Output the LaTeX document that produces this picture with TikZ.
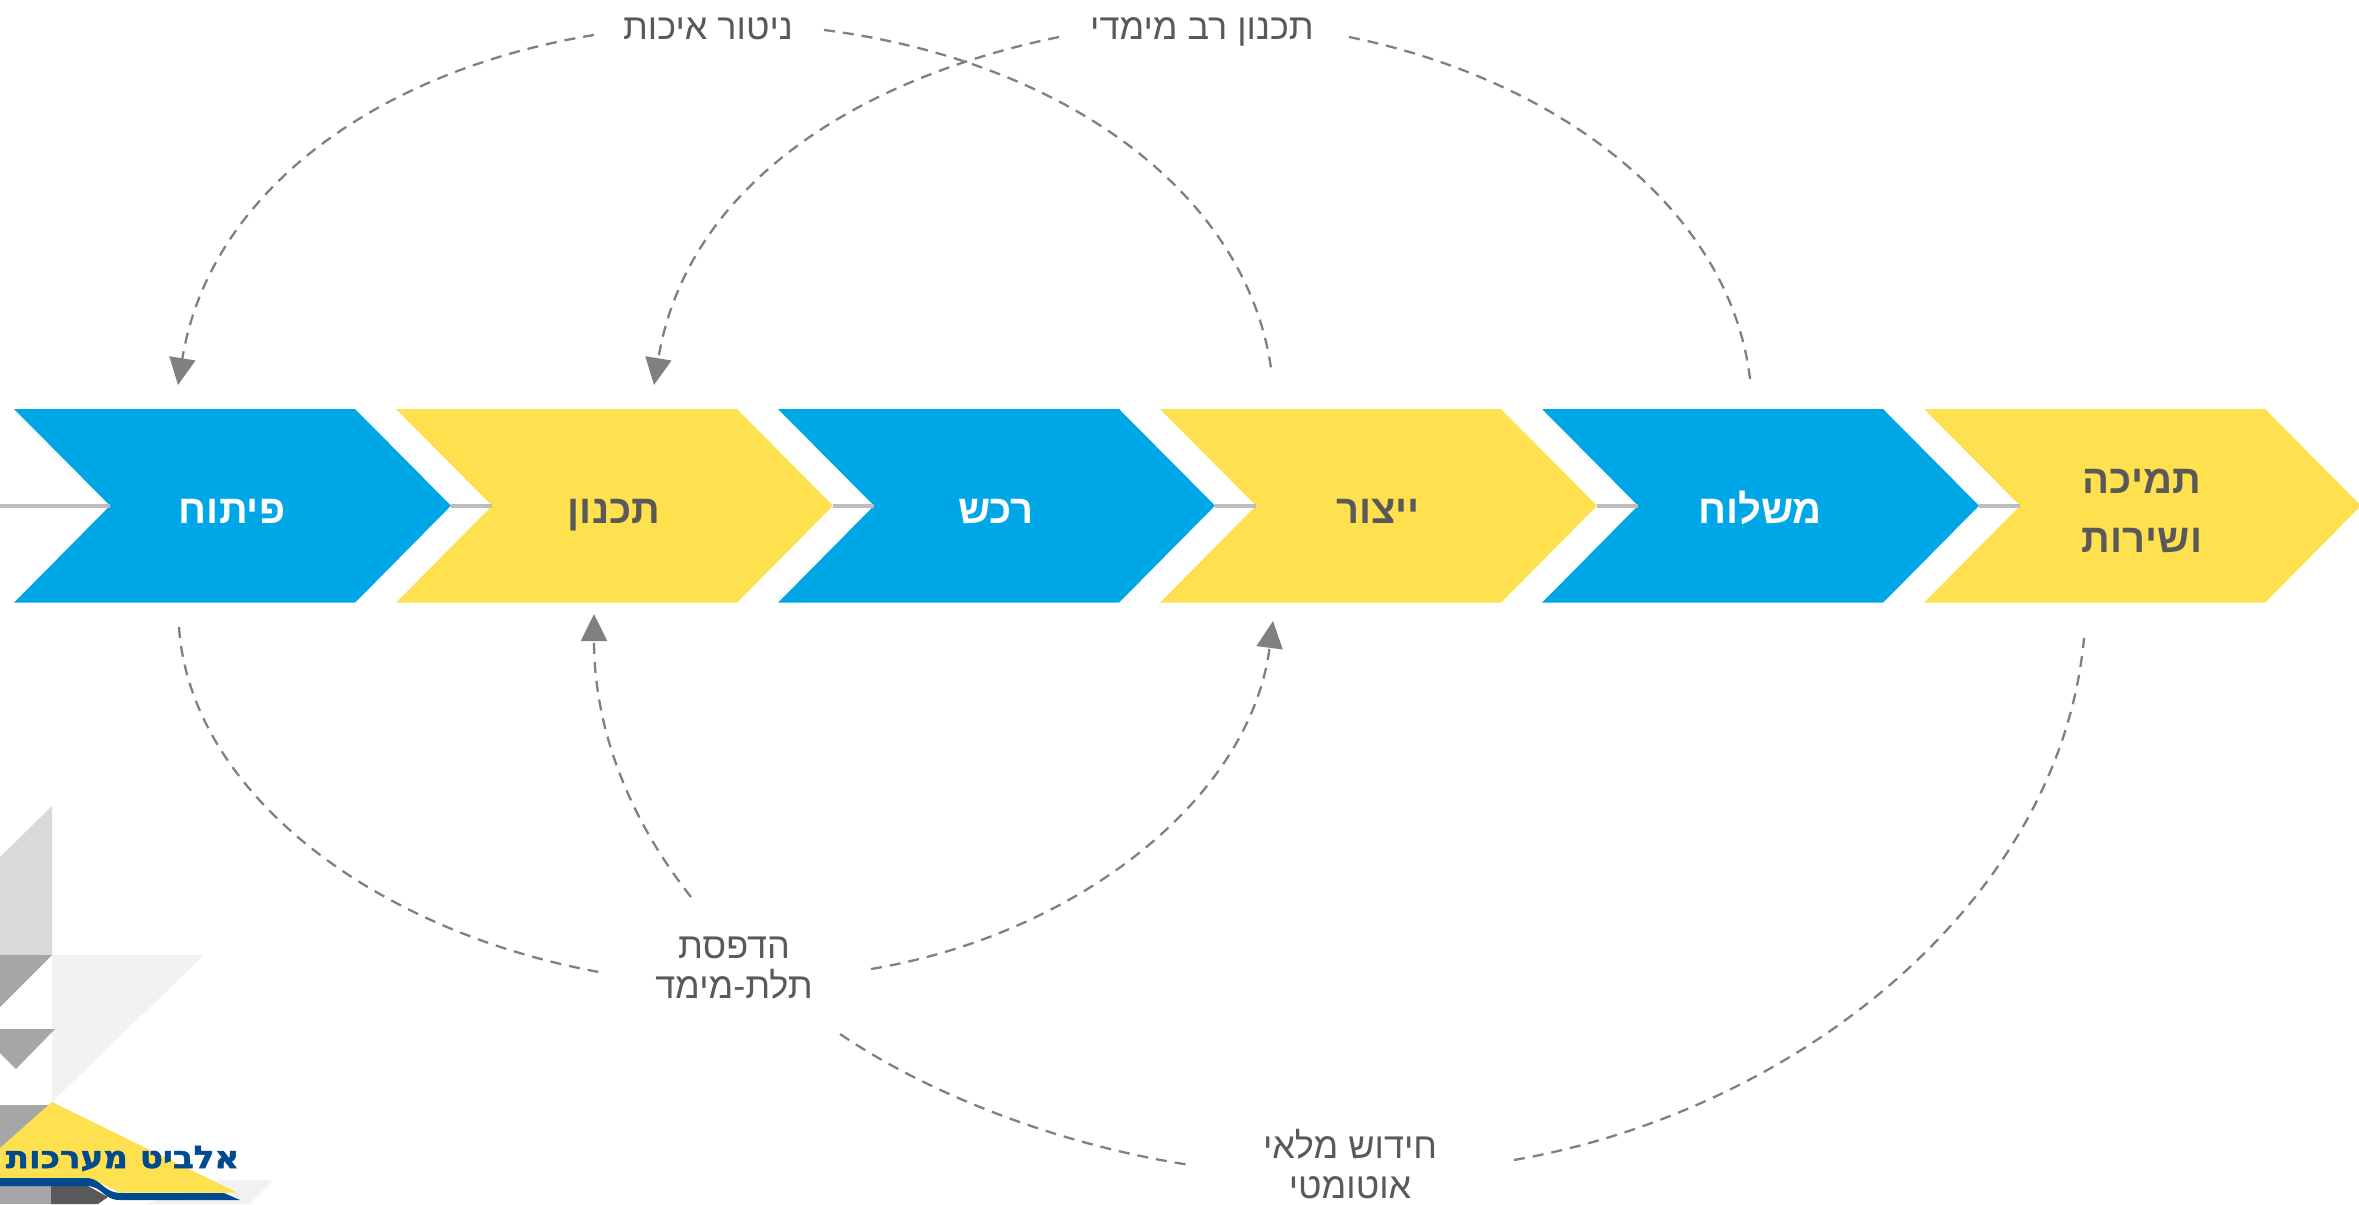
\documentclass[tikz,border=0pt]{standalone}
\usepackage{fontspec}
\usetikzlibrary{arrows.meta}
\TeXXeTstate=1
\newfontfamily\hebfont[Script=Hebrew]{Liberation Sans}
\newfontfamily\logofont[Script=Hebrew,FakeBold=1.5]{DejaVu Sans Bold}
\definecolor{cblue}{HTML}{00A7E6}
\definecolor{cyel}{HTML}{FFE04F}
\definecolor{ctxt}{HTML}{595959}
\definecolor{cdash}{HTML}{808080}
\definecolor{clink}{HTML}{BDBDBD}
\definecolor{clogo}{HTML}{004A8F}
\newcommand{\heb}[1]{\beginR #1\endR}
\newcommand{\chev}[3]{%
  \coordinate (n#1) at (#2+96,505.7);
  \coordinate (t#1) at (#2+437,505.7);
  \fill[#3] (#2,409) -- (#2+341,409) -- (t#1) -- (#2+341,602.7) -- (#2,602.7) -- (n#1) -- cycle;
}
\tikzset{
  x=0.5pt,y=-0.5pt,
  steplabel/.style={font=\hebfont\fontsize{20}{22}\selectfont\bfseries,anchor=base,inner sep=0pt},
  flowlabel/.style={font=\hebfont\fontsize{18}{20}\selectfont,text=ctxt,anchor=base,inner sep=0pt},
  link/.style={clink,line width=1.8pt},
  loopline/.style={cdash,line width=1.15pt,dash pattern=on 5.5pt off 4pt},
  looparrow/.style={loopline,-{Triangle[length=13.5pt,width=13pt,fill=cdash]}}
}
\begin{document}
\begin{tikzpicture}
\useasboundingbox (0,0) rectangle (2359,1204);
% logo backdrop
\fill[black!15] (0,857) -- (52,806) -- (52,955) -- (0,955) -- cycle;
\fill[black!35] (0,955) -- (52,955) -- (0,1007) -- cycle;
\fill[black!5] (52,955) -- (204,955) -- (52,1102) -- cycle;
\fill[black!35] (0,1029) -- (55,1029) -- (16,1069) -- (0,1053) -- cycle;
\fill[black!35] (0,1105) -- (50,1105) -- (0,1152) -- cycle;
\fill[black!5] (220,1180) -- (273,1180) -- (249,1204) -- (145,1204) -- cycle;
\fill[cyel] (0,1148) -- (52,1102) -- (237,1192.5) -- (120,1192.5) -- (90,1178) -- (0,1178) -- cycle;
\fill[black!35] (0,1186) rectangle (51,1204);
\fill[black!65] (51,1186) -- (88,1186) -- (108,1197) -- (98,1204) -- (51,1204) -- cycle;
\fill[clogo] (0,1178) -- (88,1178) .. controls (103,1180) and (103,1193) .. (122,1193) -- (224,1193) -- (240,1200) -- (120,1200) .. controls (102,1200) and (104,1186) .. (86,1186) -- (0,1186) -- cycle;
\node[anchor=base,inner sep=0pt,text=clogo,xscale=1.1] (logo) at (122.5,1168) {\logofont\fontsize{15.5}{16}\selectfont\heb{אלביט מערכות}};
% chevrons
\coordinate (start) at (0,505.7);
\chev{1}{14}{cblue}
\chev{2}{396}{cyel}
\chev{3}{778}{cblue}
\chev{4}{1160}{cyel}
\chev{5}{1542}{cblue}
\chev{6}{1924}{cyel}
\draw[link] (start) -- (n1);
\draw[link] (t1) -- (n2);
\draw[link] (t2) -- (n3);
\draw[link] (t3) -- (n4);
\draw[link] (t4) -- (n5);
\draw[link] (t5) -- (n6);
% step labels
\node[steplabel,text=white] (s1) at (232,523) {\heb{פיתוח}};
\node[steplabel,text=ctxt] (s2) at (614,523) {\heb{תכנון}};
\node[steplabel,text=white] (s3) at (996,523) {\heb{רכש}};
\node[steplabel,text=ctxt] (s4) at (1378,523) {\heb{ייצור}};
\node[steplabel,text=white] (s5) at (1760,523) {\heb{משלוח}};
\node[steplabel,text=ctxt] (s6a) at (2142,493) {\heb{תמיכה}};
\node[steplabel,text=ctxt] (s6b) at (2142,552) {\heb{ושירות}};
% flow labels
\node[flowlabel] (q) at (708,40) {\heb{ניטור איכות}};
\node[flowlabel] (p) at (1202,40) {\heb{תכנון רב מימדי}};
\node[flowlabel] (d1) at (734,958) {\heb{הדפסת}};
\node[flowlabel] (d2) at (734,998) {\heb{תלת-מימד}};
\node[flowlabel] (r1) at (1350,1158) {\heb{חידוש מלאי}};
\node[flowlabel] (r2) at (1350,1198) {\heb{אוטומטי}};
% curve ends
\coordinate (qL) at (594,35); \coordinate (qR) at (824,30);
\coordinate (pL) at (1059,37); \coordinate (pR) at (1349,37);
\coordinate (dLt) at (691,897); \coordinate (dLb) at (599,972); \coordinate (dR) at (871,969);
\coordinate (dB) at (840,1034);
\coordinate (rL) at (1190,1165); \coordinate (rR) at (1514,1160);
\coordinate (a1) at (178,385); \coordinate (a2) at (654,385);
\coordinate (e4) at (1271,368); \coordinate (e5) at (1750,379);
\coordinate (f1) at (179,627); \coordinate (b2) at (594,614); \coordinate (b4) at (1273,621); \coordinate (f6) at (2084,638);
% curves
\draw[looparrow] (qL) .. controls (380,70) and (210,190) .. (a1);
\draw[loopline] (qR) .. controls (1060,60) and (1245,190) .. (e4);
\draw[looparrow] (pL) .. controls (850,80) and (686,190) .. (a2);
\draw[loopline] (pR) .. controls (1560,80) and (1730,210) .. (e5);
\draw[loopline] (f1) .. controls (190,790) and (370,930) .. (dLb);
\draw[looparrow] (dLt) .. controls (630,820) and (594,730) .. (b2);
\draw[looparrow] (dR) .. controls (1075,935) and (1250,800) .. (b4);
\draw[loopline] (dB) .. controls (930,1095) and (1060,1145) .. (rL);
\draw[loopline] (rR) .. controls (1800,1110) and (2060,900) .. (f6);
\end{tikzpicture}
\end{document}
